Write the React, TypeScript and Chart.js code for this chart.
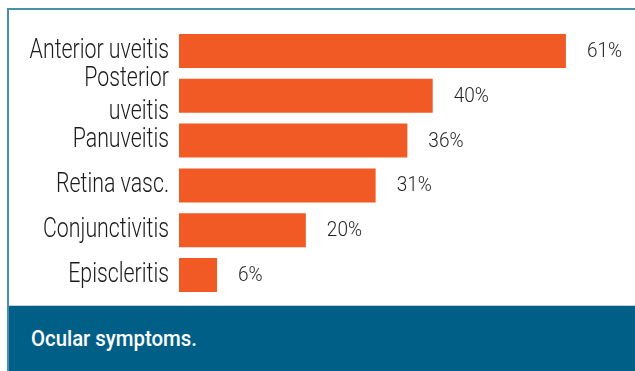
import { useEffect, useRef } from "react";
import { Chart, registerables } from "chart.js";

Chart.register(...registerables);

const categories: (string | string[])[] = [
  "Anterior uveitis",
  ["Posterior", "uveitis"],
  "Panuveitis",
  "Retina vasc.",
  "Conjunctivitis",
  "Episcleritis",
];
const values = [61, 40, 36, 31, 20, 6];
const caption = "Ocular symptoms.";

const FONT = 'Roboto, "DejaVu Sans Condensed", sans-serif';

// Category labels and value labels drawn in a condensed style (horizontally squeezed text)
const labelsPlugin = {
  id: "labelsPlugin",
  afterDatasetsDraw(chart: any) {
    const ctx = chart.ctx;
    const yScale = chart.scales.y;
    const area = chart.chartArea;
    const labels = chart.data.labels as (string | string[])[];

    ctx.save();
    ctx.fillStyle = "#1a1a1a";
    ctx.font = `300 27px ${FONT}`;
    ctx.textAlign = "right";
    ctx.textBaseline = "middle";
    const lh = 33;
    labels.forEach((lab, i) => {
      const lines = Array.isArray(lab) ? lab : [lab];
      const y = yScale.getPixelForValue(i);
      lines.forEach((line, j) => {
        const dy = (j - (lines.length - 1) / 2) * lh;
        ctx.save();
        ctx.translate(area.left - 10, y + dy);
        ctx.scale(0.79, 1);
        ctx.fillText(line, 0, 0);
        ctx.restore();
      });
    });
    ctx.restore();

    const meta = chart.getDatasetMeta(0);
    ctx.save();
    ctx.font = `300 20px ${FONT}`;
    ctx.fillStyle = "#231f20";
    ctx.textAlign = "left";
    ctx.textBaseline = "middle";
    meta.data.forEach((el: any, i: number) => {
      ctx.save();
      ctx.translate(el.x + 21, el.y + 1);
      ctx.scale(0.95, 1);
      ctx.fillText(values[i] + "%", 0, 0);
      ctx.restore();
    });
    ctx.restore();
  },
};

export default function App() {
  const ref = useRef<HTMLCanvasElement>(null);
  useEffect(() => {
    const chart = new Chart(ref.current!, {
      type: "bar",
      data: {
        labels: categories,
        datasets: [
          {
            data: values,
            backgroundColor: "#f15a24",
            barPercentage: 0.76,
            categoryPercentage: 1,
          },
        ],
      },
      options: {
        indexAxis: "y",
        animation: false,
        responsive: false,
        layout: { padding: { top: 18.5, bottom: 7.5, left: 0, right: 12 } },
        plugins: { legend: { display: false }, tooltip: { enabled: false } },
        scales: {
          x: { display: false, min: 0, max: 70 },
          y: {
            afterFit: (s: any) => {
              s.width = 170;
              s.paddingTop = 0;
              s.paddingBottom = 0;
            },
            grid: { display: false, drawTicks: false },
            border: { display: false },
            ticks: { display: false },
          },
        },
      },
      plugins: [labelsPlugin],
    } as any);
    return () => chart.destroy();
  }, []);

  return (
    <div
      style={{
        position: "fixed",
        left: 0,
        top: 0,
        width: 635,
        height: 371,
        overflow: "hidden",
        background: "#fff",
      }}
    >
      <div
        style={{
          position: "absolute",
          left: 7,
          top: 8,
          width: 640,
          height: 380,
          borderLeft: "2px solid #4a8fa9",
          borderTop: "2px solid #4a8fa9",
        }}
      >
        <canvas
          ref={ref}
          width={626}
          height={295}
          style={{ display: "block", width: 626, height: 295 }}
        />
        <div
          style={{
            height: 70,
            background: "#005f86",
            borderTop: "1px solid #c3d3db",
            color: "#fff",
            fontFamily: FONT,
            fontWeight: 500,
            fontSize: 22,
            lineHeight: "65px",
            paddingLeft: 22,
            whiteSpace: "nowrap",
          }}
        >
          <span
            style={{
              display: "inline-block",
              transform: "scaleX(0.925)",
              transformOrigin: "left center",
            }}
          >
            {caption}
          </span>
        </div>
      </div>
    </div>
  );
}
